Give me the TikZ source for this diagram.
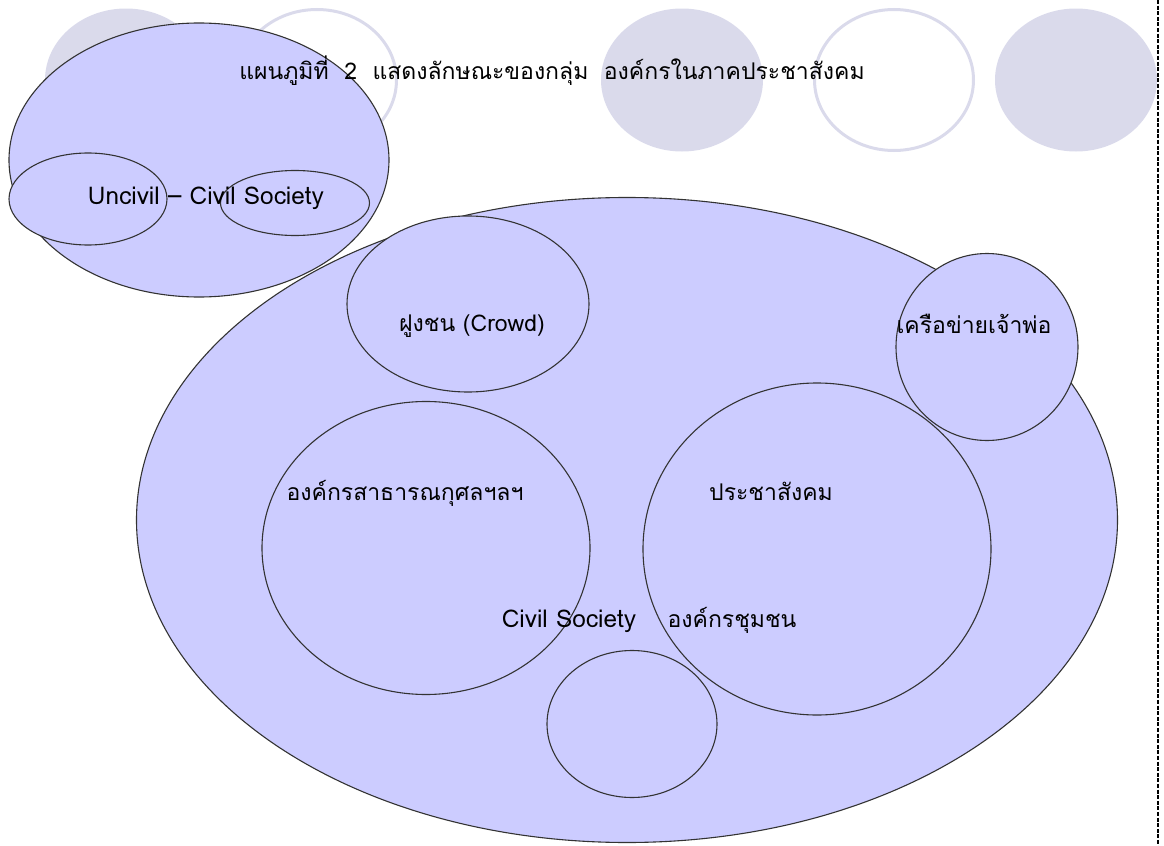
\documentclass[tikz,border=0pt]{standalone}
\usepackage{fontspec}
\setmainfont{Loma}[Script=Thai]
\usetikzlibrary{positioning,shapes}
\definecolor{lav}{HTML}{CCCCFF}
\definecolor{pale}{HTML}{DADAEB}

\begin{document}
\begin{tikzpicture}[x=0.5pt,y=-0.5pt,
    blob/.style={draw=black!80,line width=0.55pt,fill=lav,ellipse,inner sep=0pt},
    disc/.style={fill=pale,ellipse,inner sep=0pt,minimum width=81pt,minimum height=71.5pt},
    ring/.style={draw=pale,line width=1.5pt,ellipse,inner sep=0pt,minimum width=79.5pt,minimum height=70.5pt},
    lbl/.style={font=\fontsize{11.5}{14}\selectfont,inner sep=0pt,anchor=base},
    latin/.style={lbl,font=\fontsize{12.2}{14}\selectfont}]
    \useasboundingbox (0,0) rectangle (1164,846);
    % background circles
    \node[disc] (g1) at (126,80) {};
    \node[ring] (w1) at (317,80) {};
    \node[disc] (g2) at (682,80) {};
    \node[ring] (w2) at (894,80) {};
    \node[disc] (g3) at (1076,80) {};
    \coordinate (dt) at (1158,0);
    \coordinate (db) at (1158,846);
    \draw[line width=1.2pt,dash pattern=on 2pt off 0.8pt] (dt) -- (db);

    \node[blob,minimum width=490.5pt,minimum height=322.5pt] (big) at (627,520) {};
    \node[blob,minimum width=190pt,minimum height=137pt] (top) at (199,160) {};
    \node[blob,minimum width=79pt,minimum height=46pt] (unc) at (88,199) {};
    \node[blob,minimum width=74.5pt,minimum height=32.5pt] (soc) at (295,203) {};
    \node[blob,minimum width=121pt,minimum height=88pt] (crowd) at (468,304) {};
    \node[blob,minimum width=91pt,minimum height=93.5pt] (boss) at (987,347) {};
    \node[blob,minimum width=164pt,minimum height=146.5pt] (charity) at (426,548) {};
    \node[blob,minimum width=174pt,minimum height=166pt] (civ) at (817,549) {};
    \node[blob,minimum width=85pt,minimum height=73.5pt] (comm) at (632,724) {};

    \node[latin] (tuncivil) at (206,204) {Uncivil – Civil Society};
    \node[lbl] (tcrowd) at (472,331) {ฝูงชน (Crowd)};
    \node[lbl] (tboss) at (974,333) {เครือข่ายเจ้าพ่อ};
    \node[lbl] (tcharity) at (405,500) {องค์กรสาธารณกุศลฯลฯ};
    \node[lbl] (tciv) at (771,500) {ประชาสังคม};
    \node[latin] (tcs) at (569,627) {Civil Society};
    \node[lbl] (tcomm) at (732,627) {องค์กรชุมชน};
    \node[lbl] (title) at (552,79) {แผนภูมิที่~~2~~แสดงลักษณะของกลุ่ม~~องค์กรในภาคประชาสังคม};
\end{tikzpicture}
\end{document}
